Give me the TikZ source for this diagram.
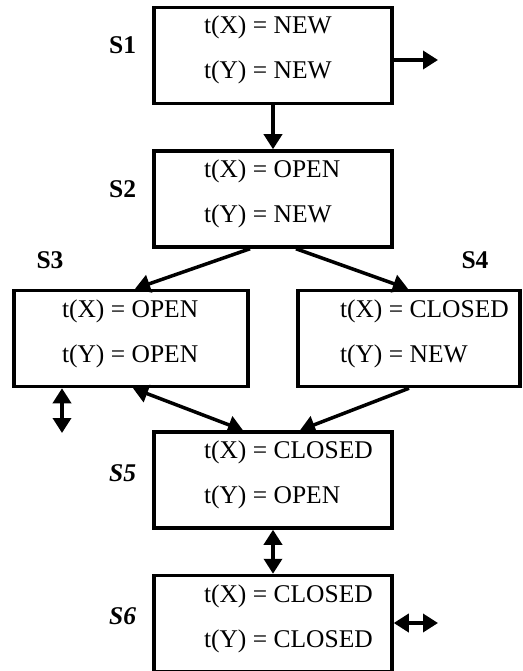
\documentclass[tikz,border=0pt]{standalone}
\usepackage{fontspec}
\setmainfont{Liberation Serif}
\usetikzlibrary{positioning,arrows.meta}

\newcommand{\tstate}[2]{\begin{tabular}{@{}l@{}}\makebox[138pt][l]{t(X) = #1}\\[15pt]\makebox[138pt][l]{t(Y) = #2}\\[10pt]\end{tabular}}

\begin{document}
\begin{tikzpicture}[x=1pt, y=-1pt,
  statebox/.style={rectangle, draw=black, line width=3.5pt, minimum width=238pt,
    minimum height=96pt, inner sep=0pt, align=center, font=\fontsize{25.5}{30}\selectfont},
  slabel/.style={inner sep=0pt, font=\fontsize{25.5}{30}\selectfont\bfseries},
  arr/.style={-{Triangle[length=15pt,width=18pt]}, line width=3.5pt},
  darr/.style={{Triangle[length=15pt,width=18pt]}-{Triangle[length=15pt,width=18pt]}, line width=3.5pt}]

  \useasboundingbox (0,0) rectangle (522,671);

  \node[statebox] (s1) at (273,55.5) {\tstate{NEW}{NEW}};
  \node[statebox, below=44pt of s1] (s2) {\tstate{OPEN}{NEW}};
  \node[statebox, minimum width=234pt] (s3) at (131,338.5) {\tstate{OPEN}{OPEN}};
  \node[statebox, minimum width=222pt] (s4) at (409,338.5) {\tstate{CLOSED}{NEW}};
  \node[statebox] (s5) at (273,480) {\tstate{CLOSED}{OPEN}};
  \node[statebox, below=44pt of s5] (s6) {\tstate{CLOSED}{CLOSED}};

  \node[slabel, left=16pt of s1, yshift=10pt] (l1) {S1};
  \node[slabel, left=16pt of s2, yshift=10pt] (l2) {S2};
  \node[slabel] (l3) at (50,260) {S3};
  \node[slabel] (l4) at (475,260) {S4};
  \node[slabel, left=16pt of s5, yshift=7pt] (l5) {\itshape S5};
  \node[slabel, left=16pt of s6, yshift=7pt] (l6) {\itshape S6};

  \coordinate (out1) at (438,60);
  \coordinate (out3) at (62,433);
  \coordinate (out6) at (438,623);

  \draw[arr] (out1 -| s1.east) -- (out1);
  \draw[arr] (s1) -- (s2);
  \draw[arr] ([xshift=-23pt]s2.south) -- ([xshift=4pt]s3.north);
  \draw[arr] ([xshift=23pt]s2.south) -- ([xshift=-1pt]s4.north);
  \draw[darr] (out3 |- s3.south) -- (out3);
  \draw[arr] (s4.south) -- ([xshift=27pt]s5.north);
  \draw[darr] ([xshift=-30pt]s5.north) -- ([xshift=2pt]s3.south);
  \draw[darr] (s5) -- (s6);
  \draw[darr] (out6 -| s6.east) -- (out6);
\end{tikzpicture}
\end{document}
